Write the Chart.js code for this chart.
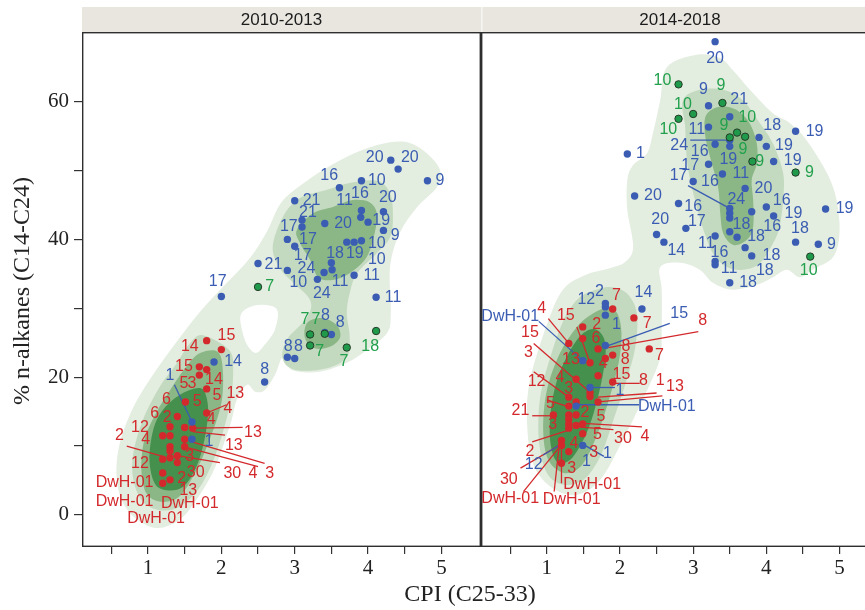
<!DOCTYPE html>
<html>
<head>
<meta charset="utf-8">
<script src="https://cdn.jsdelivr.net/npm/chart.js@4.4.1/dist/chart.umd.min.js"></script>
<style>
  html, body { margin: 0; padding: 0; background: #fff; overflow: hidden; width: 865px; height: 610px; }
  #wrap { position: relative; width: 865px; height: 610px; overflow: hidden; }
  #c1 { position: absolute; left: 0; top: 0; }
  #c2 { position: absolute; left: 481px; top: 0; }
  #xtitle { position: absolute; left: 0; width: 940px; top: 580px; text-align: center;
            font: 24px "Liberation Serif", "Times New Roman", serif; color: #222; }
</style>
</head>
<body>
<div id="wrap">
  <canvas id="c1" width="481" height="610"></canvas>
  <canvas id="c2" width="400" height="610"></canvas>
  <div id="xtitle">CPI (C25-33)</div>
</div>
<script>
// axis ticks and titles
const xTicks = [0.5, 1, 1.5, 2, 2.5, 3, 3.5, 4, 4.5, 5];
const yTicks = [0, 10, 20, 30, 40, 50, 60];
const panelTitles = ['2010-2013', '2014-2018'];
const yTitle = '% n-alkanes (C14-C24)';

// ---- panel 1 (2010-2013) ----
const p1BlueX = [4.31,4.41,4.81,3.61,3.91,3.00,3.91,3.90,4.21,4.00,3.10,3.10,3.41,4.21,2.90,3.00,3.71,3.81,3.91,3.50,3.40,3.51,2.90,3.31,3.81,2.50,2.00,4.11,3.41,3.50,2.90,3.00,2.59,1.90,1.60,1.60];
const p1BlueY = [51.5,50.2,48.5,47.5,48.5,45.6,44.2,43.2,44.0,42.5,42.8,41.8,42.3,41.3,40.0,39.0,39.6,39.6,39.8,36.6,35.2,35.6,35.5,34.2,34.8,36.5,31.7,31.6,26.5,26.2,22.9,22.7,19.3,22.2,13.5,11.0];
const p1BlueLabText = ['20','20','9','16','10','16','11','20','21','21','19','17','20','9','17','10','18','19','17','10','21','24','11','10','11','24','11','17','8','8','8','8','8','14','1','1'];
const p1BlueLabX = [4.09,4.57,4.98,3.47,4.12,3.89,3.68,4.27,3.23,3.18,4.18,2.92,3.66,4.37,3.18,4.12,3.55,3.82,3.11,4.12,2.71,3.16,4.05,3.05,3.62,3.37,4.34,1.95,3.42,3.62,2.91,3.05,2.59,2.16,1.30,1.83];
const p1BlueLabY = [51.8,51.8,48.5,49.2,48.6,46.7,45.6,46.1,45.7,43.9,42.7,41.9,42.3,40.6,40.0,39.4,38.0,37.9,37.6,37.1,36.4,35.8,34.8,33.7,33.9,32.2,31.6,33.8,29.0,27.9,24.4,24.4,21.1,22.2,20.3,10.6];
const p1BlueLeaders = [[1.60,13.5,1.36,18.9]];

const p1GreenX = [2.50,3.21,3.41,3.21,3.71,4.11];
const p1GreenY = [33.1,26.2,26.3,24.6,24.3,26.7];
const p1GreenLabText = ['7','7','7','7','7','18'];
const p1GreenLabX = [2.66,3.14,3.29,3.34,3.67,4.03];
const p1GreenLabY = [33.1,28.3,28.3,23.7,22.2,24.5];

const p1RedX = [1.80,2.00,1.70,1.80,1.70,1.80,1.51,1.80,1.40,1.30,1.50,1.61,1.20,1.30,1.50,1.30,1.30,1.50,1.20,1.30,1.40,1.40,1.20,1.30,1.20];
const p1RedY = [25.3,24.0,21.5,21.1,20.3,18.3,16.4,14.8,14.3,12.8,12.7,12.6,11.5,11.5,11.0,9.9,9.3,9.9,8.1,8.3,8.6,7.6,6.1,5.1,4.6];
const p1RedLabText = ['14','15','15','14','5','3','5','13','6','5','4','4','6','2','12','13','4','2','13','3','12','30','2','30','4','3','13','DwH-01','DwH-01','DwH-01','DwH-01'];
const p1RedLabX = [1.57,2.07,1.49,1.90,1.49,1.60,1.94,2.19,1.25,1.67,2.09,1.86,1.09,1.26,0.89,2.43,0.97,0.61,2.17,1.57,0.89,1.65,1.46,2.15,2.43,2.66,1.55,0.68,0.68,1.11,1.57];
const p1RedLabY = [24.5,26.1,21.6,19.6,19.0,19.0,17.3,17.6,16.8,16.4,15.4,13.9,14.7,14.2,12.7,11.9,11.0,11.5,10.0,8.5,7.5,6.1,5.3,6.0,6.0,6.0,3.6,4.7,1.9,-0.5,1.6];
const p1RedLeaders = [[1.80,14.8,2.07,16.0],[1.61,12.6,2.29,12.7],[0.71,10.0,1.20,8.5],[1.61,12.1,2.05,11.6],[1.40,8.6,1.98,7.6],[1.50,9.9,2.50,7.0],[1.60,10.6,2.59,7.5]];

// density contours, panel 1 (x, y outlines)
const p1Outer = [[1.12,-1.9],[0.82,-0.4],[0.64,2.2],[0.57,5.8],[0.61,10.2],[0.78,15.2],[1.02,19.6],[1.36,24.7],[1.71,29.5],[2.05,33.4],[2.39,37.3],[2.62,41.1],[2.82,45.4],[3.14,48.3],[3.52,50.9],[3.93,53.0],[4.30,54.1],[4.57,54.0],[4.80,52.5],[4.98,50.1],[4.94,47.6],[4.67,44.7],[4.43,40.9],[4.30,36.0],[4.31,29.3],[4.26,26.4],[3.98,23.9],[3.71,22.1],[3.34,20.8],[2.97,21.0],[2.84,22.9],[2.73,20.3],[2.59,18.1],[2.46,17.9],[2.35,18.9],[2.21,16.7],[2.14,13.8],[2.02,9.9],[1.88,6.1],[1.66,2.2],[1.43,-0.7]];
const p1Hole = [[2.35,30.0],[2.55,30.5],[2.76,29.8],[2.73,26.9],[2.59,24.7],[2.47,23.5],[2.35,24.7],[2.28,26.9],[2.26,28.9]];
const p1LowL2 = [[1.75,26.1],[2.11,23.9],[2.16,20.6],[2.11,15.7],[1.93,9.0],[1.71,4.1],[1.43,1.2],[1.16,0.7],[0.93,1.9],[0.80,5.1],[0.80,9.0],[0.93,13.8],[1.16,18.6],[1.39,22.0],[1.57,24.9]];
const p1LowL3 = [[1.71,23.5],[1.95,23.7],[2.02,21.0],[2.00,16.2],[1.84,10.9],[1.66,6.5],[1.43,2.7],[1.18,1.9],[0.98,3.1],[0.91,6.5],[0.95,10.9],[1.11,14.8],[1.30,18.1],[1.52,21.5]];
const p1LowL4 = [[1.66,18.4],[1.77,17.9],[1.82,15.2],[1.77,10.9],[1.66,7.0],[1.48,4.1],[1.25,3.6],[1.09,4.6],[1.02,8.0],[1.07,12.3],[1.20,15.2],[1.43,17.4]];
const p1UpL2 = [[2.70,38.9],[2.84,43.3],[3.07,46.0],[3.44,47.2],[3.75,48.2],[4.12,48.5],[4.30,46.7],[4.34,43.3],[4.30,40.3],[4.12,38.0],[3.85,35.1],[3.75,32.2],[3.71,29.3],[3.75,25.8],[3.71,22.9],[3.44,21.3],[3.03,21.0],[2.84,22.5],[2.89,25.4],[3.17,28.7],[3.21,31.2],[2.97,33.8],[2.80,35.8]];
const p1UpL3 = [[3.03,41.4],[3.25,43.8],[3.52,44.7],[3.79,45.7],[4.02,45.4],[4.12,43.8],[4.09,40.9],[3.98,37.4],[3.75,35.1],[3.52,34.1],[3.32,34.5],[3.21,37.0],[3.07,39.5]];
const p1MidL3 = [[3.17,27.9],[3.37,28.6],[3.57,27.6],[3.62,25.8],[3.48,24.4],[3.27,24.2],[3.14,25.7]];

// ---- panel 2 (2014-2018) ----
const p2BlueX = [3.30,3.21,3.50,3.21,3.30,3.50,3.50,3.90,4.00,4.40,4.10,3.21,3.40,3.00,3.71,2.10,2.20,2.80,3.50,3.50,3.50,3.80,4.00,4.10,4.81,2.50,2.60,2.90,3.50,3.60,4.40,4.71,3.30,3.30,3.30,3.71,3.80,3.50,1.80,1.80,1.80,2.30,1.80,1.49,1.59,1.40,1.49];
const p2BlueY = [68.7,59.4,57.8,56.3,53.8,53.5,54.4,54.8,53.5,55.7,51.3,50.9,49.5,48.4,47.4,52.4,46.3,45.2,44.5,43.8,43.1,44.0,44.7,43.4,44.4,40.7,39.6,41.6,41.1,40.3,39.6,39.3,40.5,36.8,36.3,38.8,37.6,33.7,30.7,30.2,29.0,29.9,24.6,22.4,18.5,15.8,10.1];
const p2BlueLabText = ['20','9','21','11','16','19','24','18','19','19','19','17','11','16','17','20','1','20','16','24','16','19','16','19','20','14','17','18','18','18','9','11','16','11','18','18','18','12','2','14','1','15','DwH-01','1','DwH-01','1','12','1'];
const p2BlueLabX = [3.30,3.14,3.63,3.05,3.09,3.48,2.81,4.08,4.24,4.66,4.36,2.96,3.65,3.23,2.80,3.96,2.28,2.45,3.00,3.59,4.21,4.37,4.08,5.07,2.55,2.77,3.05,3.66,3.86,4.46,4.89,3.18,3.36,3.49,4.07,3.98,3.75,1.54,1.72,2.32,1.95,2.81,0.50,2.00,2.64,1.83,0.82,1.54];
const p2BlueLabY = [66.3,61.8,60.3,56.0,52.7,51.6,53.6,56.5,53.6,55.6,51.4,50.7,49.6,48.4,49.3,47.4,52.4,46.4,44.7,45.8,45.6,43.7,41.8,44.5,42.9,38.4,42.6,42.2,40.4,41.5,39.3,39.4,38.1,35.8,37.7,35.5,33.7,31.3,32.4,32.3,27.6,29.2,28.8,18.1,15.8,8.9,7.3,7.7];
const p2BlueLeaders = [[3.50,54.4,2.96,54.4],[3.48,44.6,2.93,47.8],[1.82,24.5,2.68,27.8],[1.49,22.4,0.89,28.1],[1.59,18.5,1.93,18.5],[1.40,16.0,2.26,16.0],[1.52,10.1,1.78,8.5],[1.20,10.3,0.95,8.7]];

const p2GreenX = [2.80,3.40,3.00,2.80,3.60,3.50,3.71,3.81,4.40,4.60];
const p2GreenY = [62.5,59.8,58.2,57.5,55.5,54.8,54.9,51.3,49.7,37.5];
const p2GreenLabText = ['10','9','10','10','10','9','9','9','9','10'];
const p2GreenLabX = [2.58,3.38,2.86,2.66,3.74,3.42,3.68,3.91,4.59,4.58];
const p2GreenLabY = [63.1,62.3,59.5,55.9,57.7,56.5,53.1,51.3,49.7,35.5];

const p2RedX = [1.90,2.19,2.40,1.49,1.49,1.30,1.70,1.90,1.80,1.59,1.70,1.40,1.90,1.59,1.59,1.70,1.30,1.30,1.40,1.09,1.30,1.30,1.30,1.30,1.40,1.40,1.49,1.49,1.20,1.20,1.30,1.20];
const p2RedY = [29.9,28.6,24.1,27.3,25.6,24.9,24.1,23.2,22.7,22.1,20.2,19.7,19.3,17.8,17.2,16.4,17.1,15.8,16.4,14.5,14.5,13.9,13.2,12.6,14.5,13.0,13.2,11.8,10.8,10.1,9.2,7.5];
const p2RedLabText = ['7','7','7','4','15','2','6','8','8','8','4','13','15','3','4','15','8','1','13','12','3','5','21','2','3','5','4','30','5','2','4','3','3','30','DwH-01','DwH-01','DwH-01'];
const p2RedLabX = [1.95,2.37,2.54,0.93,1.26,1.68,1.67,2.08,3.13,2.07,1.77,1.33,0.77,0.75,1.18,2.02,2.32,2.55,2.75,0.86,1.30,1.05,0.64,1.52,1.08,1.74,2.34,2.04,1.69,0.77,1.37,1.64,1.34,0.48,0.50,1.34,1.62];
const p2RedLabY = [31.9,27.8,23.1,30.0,29.0,27.6,25.6,24.4,28.2,22.5,21.9,22.6,26.4,23.6,20.0,20.4,19.5,19.5,18.6,19.3,18.4,16.2,15.2,14.8,13.1,14.3,11.4,11.1,11.6,9.2,10.3,9.0,6.8,5.2,2.4,2.2,4.4];
const p2RedLeaders = [[1.30,24.9,1.02,28.5],[1.59,22.1,1.41,27.3],[1.84,24.3,3.07,26.6],[1.59,17.8,0.82,24.9],[1.30,17.1,0.82,20.8],[1.90,19.1,2.27,19.1],[1.70,16.4,2.58,17.3],[1.70,17.1,2.50,17.7],[1.30,15.7,1.00,16.7],[1.09,14.4,0.80,14.4],[1.50,13.3,2.30,12.8],[1.41,12.8,1.91,12.4],[1.30,12.3,0.80,10.6],[1.20,10.3,0.64,6.8],[1.20,10.2,0.68,3.4],[1.17,10.2,1.10,3.4],[1.20,10.2,1.20,4.6]];

// density contours, panel 2
const p2Outer = [[1.40,2.9],[1.05,4.1],[0.81,7.5],[0.73,13.4],[0.77,19.6],[1.01,27.9],[1.22,32.7],[1.52,34.8],[1.86,35.8],[2.07,36.7],[2.18,38.9],[2.10,44.3],[2.10,48.6],[2.18,50.8],[2.37,52.5],[2.45,55.4],[2.55,60.2],[2.64,65.0],[3.05,66.8],[3.37,66.3],[3.54,64.6],[3.82,61.2],[4.09,58.3],[4.32,56.9],[4.55,54.4],[4.83,49.6],[4.96,45.7],[5.00,40.9],[4.91,37.4],[4.63,35.6],[4.46,34.5],[4.28,35.6],[4.09,34.5],[3.87,33.4],[3.54,32.7],[3.27,33.7],[3.09,35.6],[2.82,36.6],[2.55,36.0],[2.57,32.7],[2.57,27.3],[2.55,22.9],[2.37,18.1],[2.04,10.9],[1.73,5.1]];
const p2UpL2 = [[2.86,60.2],[3.09,61.7],[3.41,61.7],[3.68,60.2],[3.91,56.9],[4.09,53.9],[4.23,49.6],[4.23,45.7],[4.18,41.8],[4.09,39.4],[3.91,36.5],[3.68,35.6],[3.46,36.0],[3.27,38.0],[3.14,41.4],[3.05,44.7],[2.96,48.6],[2.91,52.0],[2.89,56.4]];
const p2UpL3 = [[3.18,58.1],[3.37,59.3],[3.59,58.8],[3.77,56.9],[3.87,53.9],[3.87,51.0],[3.80,48.6],[3.82,45.7],[3.82,41.8],[3.73,39.9],[3.55,39.2],[3.41,40.9],[3.37,43.8],[3.34,47.6],[3.23,52.0],[3.16,55.4]];
const p2LowL2 = [[1.59,32.4],[1.86,33.1],[2.09,32.2],[2.23,29.3],[2.21,24.4],[2.09,19.6],[1.91,13.8],[1.73,8.5],[1.50,5.1],[1.23,4.4],[1.00,6.1],[0.89,10.9],[0.91,17.2],[1.05,23.0],[1.23,28.3],[1.41,31.2]];
const p2LowL3 = [[1.64,29.3],[1.82,30.0],[1.96,29.3],[2.02,26.4],[1.98,22.0],[1.82,15.7],[1.64,10.4],[1.46,7.0],[1.23,6.1],[1.02,8.0],[0.95,12.3],[1.00,18.1],[1.18,23.5],[1.41,27.3]];
const p2LowL4 = [[1.50,26.4],[1.68,26.9],[1.80,24.9],[1.77,20.6],[1.64,14.8],[1.50,10.9],[1.32,8.0],[1.14,7.7],[1.05,10.4],[1.05,14.8],[1.14,19.6],[1.32,23.9]];

// ---- styling ----
const RED = '#d3292c', BLUE = '#3a5cb2', GREEN = '#1f9a4a';
const GREEN_LAB = '#22a04c';
const levelFill = ['#e3ede0', '#c4dac0', '#8bb787', '#46904e'];
const serif = '"Liberation Serif", "Times New Roman", serif';
const sans = '"Liberation Sans", Arial, sans-serif';

function toPts(xs, ys) {
    return xs.map((x, i) => ({ x: x, y: ys[i] }));
}

// closed Catmull-Rom curve through the outline
function smoothClosed(ctx, p) {
    const n = p.length;
    ctx.moveTo(p[0][0], p[0][1]);
    for (let i = 0; i < n; i++) {
        const p0 = p[(i - 1 + n) % n], p1 = p[i], p2 = p[(i + 1) % n], p3 = p[(i + 2) % n];
        ctx.bezierCurveTo(
            p1[0] + (p2[0] - p0[0]) / 6, p1[1] + (p2[1] - p0[1]) / 6,
            p2[0] - (p3[0] - p1[0]) / 6, p2[1] - (p3[1] - p1[1]) / 6,
            p2[0], p2[1]);
    }
    ctx.closePath();
}

function panelPlugin(cfg) {
    return {
        id: 'panelDecor',
        beforeDraw(chart) {
            const { ctx, chartArea: a } = chart;
            ctx.save();
            ctx.fillStyle = '#e8e6df';
            ctx.fillRect(a.left, 7, a.right - a.left, a.top - 7);
            if (cfg.stripSeparator) {
                ctx.fillStyle = '#f6f5f1';
                ctx.fillRect(a.left, 7, 1.5, a.top - 7);
            }
            ctx.fillStyle = '#1c1c1c';
            ctx.font = '17px ' + sans;
            ctx.textAlign = 'center';
            ctx.textBaseline = 'middle';
            ctx.fillText(cfg.title, (a.left + a.right) / 2, 20);
            ctx.restore();
        },
        beforeDatasetsDraw(chart) {
            const { ctx, chartArea: a, scales: { x, y } } = chart;
            ctx.save();
            ctx.beginPath();
            ctx.rect(a.left, a.top, a.right - a.left, a.bottom - a.top);
            ctx.clip();
            cfg.contours.forEach(([poly, lvl]) => {
                const pts = poly.map(([vx, vy]) => [x.getPixelForValue(vx), y.getPixelForValue(vy)]);
                ctx.beginPath();
                smoothClosed(ctx, pts);
                ctx.fillStyle = lvl < 0 ? '#ffffff' : levelFill[lvl];
                ctx.fill();
            });
            ctx.lineWidth = 1.3;
            cfg.leaders.forEach(([lines, color]) => {
                ctx.strokeStyle = color;
                lines.forEach(([x1, y1, x2, y2]) => {
                    ctx.beginPath();
                    ctx.moveTo(x.getPixelForValue(x1), y.getPixelForValue(y1));
                    ctx.lineTo(x.getPixelForValue(x2), y.getPixelForValue(y2));
                    ctx.stroke();
                });
            });
            ctx.restore();
        },
        afterDatasetsDraw(chart) {
            const { ctx, chartArea: a, scales: { x, y } } = chart;
            ctx.save();
            ctx.beginPath();
            ctx.rect(a.left, a.top, a.right - a.left, a.bottom - a.top);
            ctx.clip();
            ctx.font = '16px ' + sans;
            ctx.textAlign = 'center';
            ctx.textBaseline = 'middle';
            cfg.labels.forEach(([texts, xs, ys, color]) => {
                ctx.fillStyle = color;
                texts.forEach((t, i) => {
                    ctx.fillText(t, x.getPixelForValue(xs[i]), y.getPixelForValue(ys[i]));
                });
            });
            ctx.restore();
        },
        afterDraw(chart) {
            const { ctx, chartArea: a } = chart;
            ctx.save();
            ctx.strokeStyle = '#2e2e2e';
            ctx.lineWidth = 1.4;
            ctx.strokeRect(a.left + 0.7, a.top + 0.7, a.right - a.left - 1.4, a.bottom - a.top - 1.4);
            if (cfg.yTitle) {
                ctx.translate(23, 291);
                ctx.rotate(-Math.PI / 2);
                ctx.fillStyle = '#222';
                ctx.font = '24px ' + serif;
                ctx.textAlign = 'center';
                ctx.textBaseline = 'middle';
                ctx.fillText(cfg.yTitle, 0, 0);
            }
            ctx.restore();
        }
    };
}

function scatterSet(xs, ys, color, border) {
    return {
        data: toPts(xs, ys),
        backgroundColor: color,
        borderColor: border || color,
        borderWidth: border ? 1 : 0,
        pointRadius: 3.7,
        pointHoverRadius: 3.7
    };
}

function makePanel(id, cfg) {
    const tickColor = '#333';
    return new Chart(document.getElementById(id), {
        type: 'scatter',
        data: {
            datasets: [
                scatterSet(cfg.green[0], cfg.green[1], GREEN, '#243b28'),
                scatterSet(cfg.blue[0], cfg.blue[1], BLUE),
                scatterSet(cfg.red[0], cfg.red[1], RED)
            ]
        },
        options: {
            responsive: false,
            animation: false,
            devicePixelRatio: 1,
            events: [],
            layout: { autoPadding: false, padding: { top: 32, left: 0, right: cfg.padRight, bottom: 0 } },
            plugins: { legend: { display: false }, tooltip: { enabled: false } },
            scales: {
                x: {
                    type: 'linear', min: 0.1, max: 5.54,
                    afterBuildTicks: s => { s.ticks = xTicks.map(v => ({ value: v })); },
                    afterFit: s => { s.height = 63; s.paddingLeft = 0; s.paddingRight = 0; },
                    grid: { drawOnChartArea: false, drawTicks: true, tickLength: 7, color: tickColor, lineWidth: 1.2 },
                    border: { display: false },
                    ticks: {
                        autoSkip: false, maxRotation: 0, padding: 2, color: '#222',
                        font: { family: serif, size: 21 },
                        callback: v => Number.isInteger(v) ? String(v) : ''
                    }
                },
                y: {
                    type: 'linear', min: -4.65, max: 70.1,
                    display: cfg.showY,
                    afterBuildTicks: s => { s.ticks = yTicks.map(v => ({ value: v })); },
                    afterFit: s => { s.width = cfg.showY ? 82 : 0; s.paddingTop = 0; s.paddingBottom = 0; },
                    grid: { drawOnChartArea: false, drawTicks: true, tickLength: 8, color: tickColor, lineWidth: 1.2 },
                    border: { display: false },
                    ticks: {
                        padding: 5, color: '#222',
                        font: { family: serif, size: 21 },
                        callback: v => v % 20 === 0 ? String(v) : ''
                    }
                }
            }
        },
        plugins: [panelPlugin(cfg)]
    });
}

makePanel('c1', {
    title: panelTitles[0], showY: true, padRight: 0, yTitle: yTitle,
    red: [p1RedX, p1RedY], blue: [p1BlueX, p1BlueY], green: [p1GreenX, p1GreenY],
    contours: [[p1Outer, 0], [p1Hole, -1], [p1LowL2, 1], [p1UpL2, 1], [p1LowL3, 2], [p1UpL3, 2], [p1MidL3, 2], [p1LowL4, 3]],
    leaders: [[p1RedLeaders, RED], [p1BlueLeaders, BLUE]],
    labels: [[p1RedLabText, p1RedLabX, p1RedLabY, RED], [p1BlueLabText, p1BlueLabX, p1BlueLabY, BLUE], [p1GreenLabText, p1GreenLabX, p1GreenLabY, GREEN_LAB]]
});

makePanel('c2', {
    title: panelTitles[1], showY: false, padRight: 2, stripSeparator: true,
    red: [p2RedX, p2RedY], blue: [p2BlueX, p2BlueY], green: [p2GreenX, p2GreenY],
    contours: [[p2Outer, 0], [p2UpL2, 1], [p2LowL2, 1], [p2UpL3, 2], [p2LowL3, 2], [p2LowL4, 3]],
    leaders: [[p2RedLeaders, RED], [p2BlueLeaders, BLUE]],
    labels: [[p2RedLabText, p2RedLabX, p2RedLabY, RED], [p2BlueLabText, p2BlueLabX, p2BlueLabY, BLUE], [p2GreenLabText, p2GreenLabX, p2GreenLabY, GREEN_LAB]]
});
</script>
</body>
</html>
